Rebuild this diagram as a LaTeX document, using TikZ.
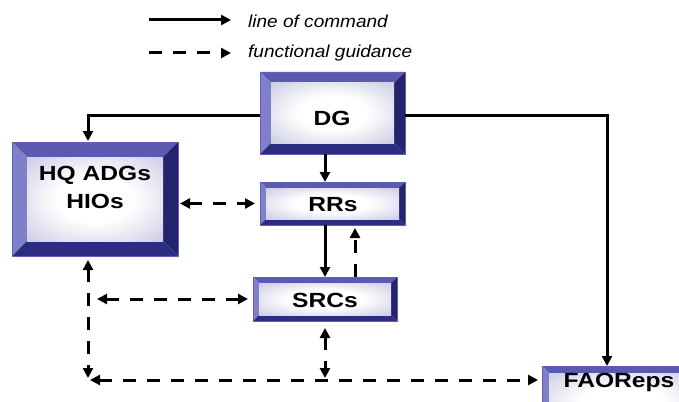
\documentclass[tikz,border=0pt]{standalone}
\usepackage{fontspec}
\setmainfont{Liberation Sans}
\newfontfamily\boxfont{Liberation Sans}[FakeStretch=1.2]
\newfontfamily\legfont{Liberation Sans}[FakeStretch=1.1]
\usetikzlibrary{arrows.meta}

% bevelled box colours
\definecolor{bevtop}{RGB}{90,90,176}
\definecolor{bevleft}{RGB}{128,128,200}
\definecolor{bevright}{RGB}{36,36,108}
\definecolor{bevbot}{RGB}{44,44,128}
\definecolor{bevedge}{RGB}{96,96,180}
\definecolor{faceedge}{RGB}{118,118,184}
\pgfdeclareradialshading{bevface}{\pgfpoint{0bp}{0bp}}{color(0bp)=(white); color(14bp)=(white); color(72bp)=(faceedge)}

\def\ppb{path picture bounding box}

\tikzset{
  bevw/.store in=\bevw, bevw=6pt,
  bevbox/.style={rectangle, inner sep=0pt, outer sep=0pt, anchor=north west,
    draw=bevedge, line width=0.5pt,
    path picture={
      \fill[bevtop] (\ppb.north west) -- (\ppb.north east)
        -- ([xshift=-\bevw,yshift=-\bevw]\ppb.north east)
        -- ([xshift=\bevw,yshift=-\bevw]\ppb.north west) -- cycle;
      \fill[bevleft] (\ppb.north west) -- (\ppb.south west)
        -- ([xshift=\bevw,yshift=\bevw]\ppb.south west)
        -- ([xshift=\bevw,yshift=-\bevw]\ppb.north west) -- cycle;
      \fill[bevright] (\ppb.north east) -- (\ppb.south east)
        -- ([xshift=-\bevw,yshift=\bevw]\ppb.south east)
        -- ([xshift=-\bevw,yshift=-\bevw]\ppb.north east) -- cycle;
      \fill[bevbot] (\ppb.south west) -- (\ppb.south east)
        -- ([xshift=-\bevw,yshift=\bevw]\ppb.south east)
        -- ([xshift=\bevw,yshift=\bevw]\ppb.south west) -- cycle;
      \shade[shading=bevface] ([xshift=\bevw,yshift=-\bevw]\ppb.north west)
        rectangle ([xshift=-\bevw,yshift=\bevw]\ppb.south east);
    }},
  boxtext/.style={anchor=base, inner sep=0pt, font=\boxfont\bfseries\fontsize{20.5}{24}\selectfont},
  legtext/.style={anchor=base west, inner sep=0pt, font=\legfont\itshape\fontsize{17.3}{20}\selectfont},
  tip/.tip={Triangle[length=10pt,width=10pt]},
  cmd/.style={line width=3pt, -tip},
  guide/.style={cmd, dash pattern=on 13pt off 11pt},
  guidetwo/.style={guide, tip-tip}
}

\begin{document}
\begin{tikzpicture}[x=1pt,y=-1pt]
\useasboundingbox (0,0) rectangle (679,401);
\clip (0,0) rectangle (679,401);
\fill[white] (0,0) rectangle (679,401);

% legend
\coordinate (l1a) at (149,20);
\coordinate (l1b) at (231,20);
\draw[cmd] (l1a) -- (l1b);
\node[legtext] (l1t) at (248,27.3) {line of command};
\coordinate (l2a) at (149,53);
\coordinate (l2b) at (231,53);
\draw[guide] (l2a) -- (l2b);
\node[legtext] (l2t) at (248,58) {functional guidance};

% boxes
\node[bevbox, bevw=11pt, minimum width=145pt, minimum height=82pt] (DG) at (260,72) {};
\node[bevbox, bevw=15pt, minimum width=166pt, minimum height=114pt] (HQ) at (12,142) {};
\node[bevbox, bevw=6pt, minimum width=145pt, minimum height=43pt] (RR) at (260,182) {};
\node[bevbox, bevw=6pt, minimum width=144pt, minimum height=44pt] (SRC) at (253,277) {};
\node[bevbox, bevw=7pt, minimum width=160pt, minimum height=70pt] (FAO) at (542,366) {};

% box labels
\node[boxtext] (DGt) at (332,125) {DG};
\node[boxtext] (HQt1) at (95,180) {HQ ADGs};
\node[boxtext] (HQt2) at (95,208) {HIOs};
\node[boxtext] (RRt) at (333,211) {RRs};
\node[boxtext] (SRCt) at (325,307) {SRCs};
\node[boxtext] (FAOt) at (619,387) {FAOReps};

% line of command
\draw[cmd, shorten >=1pt] ([yshift=-2pt]DG.west) -| ([xshift=-7pt]HQ.north);
\draw[cmd] ([yshift=-2pt]DG.east) -| ([xshift=65pt]FAO.north west);
\draw[cmd] ([xshift=-7.5pt]DG.south) -- ([xshift=-7.5pt]RR.north);
\draw[cmd] ([xshift=-7.5pt]RR.south) -- ([xshift=-7.5pt]RR.south |- SRC.north);

% functional guidance
\coordinate (corner) at (88,380);
\coordinate (hqsrc) at (corner |- SRC.west);
\draw[guidetwo, shorten <=2pt, shorten >=5pt] (HQ.east |- RR.west) -- (RR.west);
\draw[guide, shorten >=3pt] ([xshift=30pt]SRC.north) -- ([xshift=30pt]SRC.north |- RR.south);
\draw[guidetwo, shorten <=9pt, shorten >=5pt] (hqsrc) -- (SRC.west);
\draw[guidetwo, shorten <=4pt, shorten >=2pt] ([xshift=-7pt]HQ.south) -- (corner);
\draw[guidetwo, shorten <=2pt, shorten >=4pt] (corner) -- (corner -| FAO.west);
\draw[guidetwo, shorten <=7pt, shorten >=2pt] (SRC.south) -- (SRC.south |- corner);
\end{tikzpicture}
\end{document}
